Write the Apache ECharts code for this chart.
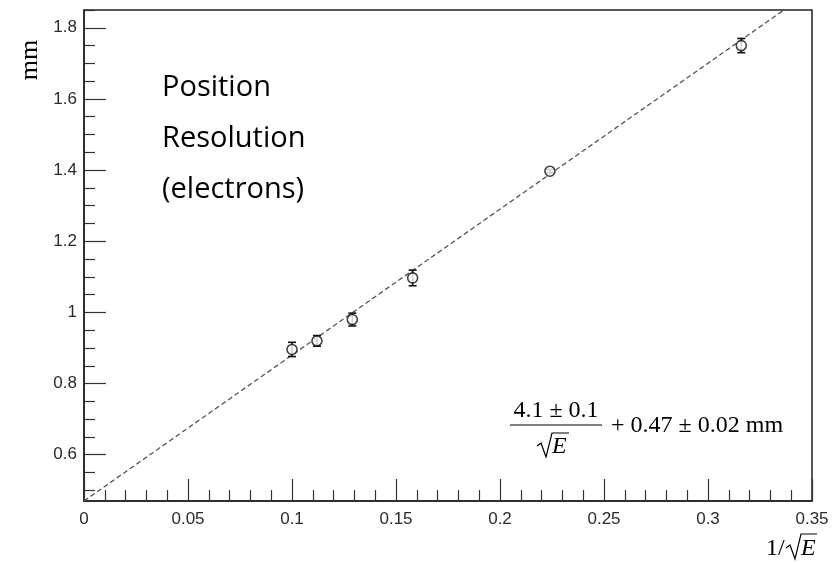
<!DOCTYPE html>
<html>
<head>
<meta charset="utf-8">
<script src="https://cdn.jsdelivr.net/npm/echarts@6/dist/echarts.min.js"></script>
<style>html,body{margin:0;padding:0;background:#fff}#c{width:833px;height:563px}</style>
</head>
<body>
<div id="c"></div>
<script>
// data
const xValues = [0.1, 0.112, 0.129, 0.158, 0.224, 0.316];
const yValues = [0.896, 0.920, 0.980, 1.097, 1.397, 1.750];
const yErrors = [0.020, 0.015, 0.018, 0.022, 0.005, 0.020];
const fitLine = [[0, 0.47], [0.336, 1.848]];
const yMajorTicks = [0.6, 0.8, 1.0, 1.2, 1.4, 1.6, 1.8];
const yMinorTicks = [0.5, 0.55, 0.65, 0.7, 0.75, 0.85, 0.9, 0.95, 1.05, 1.1, 1.15, 1.25, 1.3, 1.35, 1.45, 1.5, 1.55, 1.65, 1.7, 1.75, 1.85];

const points = xValues.map((x, i) => [x, yValues[i]]);
const errData = xValues.map((x, i) => [x, yValues[i], yErrors[i]]);

const chart = echarts.init(document.getElementById('c'), null, {renderer: 'canvas'});
const axisColor = '#333';
const labelStyle = {color: '#2a2a2a', fontFamily: 'Liberation Sans', fontSize: 17};

chart.setOption({
  animation: false,
  backgroundColor: '#fff',
  grid: {left: 84, right: 21, top: 10, bottom: 62, show: true, borderColor: '#222', borderWidth: 1.5, backgroundColor: 'transparent'},
  xAxis: {
    type: 'value', min: 0, max: 0.35, interval: 0.05,
    axisLine: {lineStyle: {color: '#222', width: 1.5}},
    axisTick: {inside: true, length: 22, lineStyle: {color: axisColor, width: 1.2}},
    minorTick: {show: true, splitNumber: 5, length: 11, lineStyle: {color: axisColor, width: 1.2}},
    splitLine: {show: false},
    axisLabel: Object.assign({margin: 10, formatter: v => String(+v.toFixed(2))}, labelStyle)
  },
  yAxis: [{
    type: 'value', min: 0.47, max: 1.85,
    axisLine: {show: true, lineStyle: {color: '#222', width: 1.5}},
    axisTick: {show: true, inside: true, length: 22, customValues: yMajorTicks, lineStyle: {color: axisColor, width: 1.2}},
    splitLine: {show: false},
    axisLabel: Object.assign({margin: 7, customValues: yMajorTicks, formatter: v => String(+v.toFixed(1))}, labelStyle)
  }, {
    type: 'value', min: 0.47, max: 1.85, position: 'left',
    axisLine: {show: false},
    axisTick: {show: true, inside: true, length: 11, customValues: yMinorTicks, lineStyle: {color: axisColor, width: 1.2}},
    splitLine: {show: false},
    axisLabel: {show: false}
  }],
  series: [{
    type: 'line', data: fitLine, symbol: 'none', z: 2,
    lineStyle: {color: '#555', width: 1.3, type: [5, 3]}
  }, {
    type: 'custom', data: errData, z: 3,
    renderItem: function (params, api) {
      const x = api.value(0), y = api.value(1), e = api.value(2);
      const t = api.coord([x, y + e]);
      const b = api.coord([x, y - e]);
      const hw = 4;
      const st = {stroke: '#111', lineWidth: 1.6};
      return {type: 'group', children: [
        {type: 'line', shape: {x1: t[0], y1: t[1], x2: b[0], y2: b[1]}, style: st},
        {type: 'line', shape: {x1: t[0] - hw, y1: t[1], x2: t[0] + hw, y2: t[1]}, style: st},
        {type: 'line', shape: {x1: b[0] - hw, y1: b[1], x2: b[0] + hw, y2: b[1]}, style: st}
      ]};
    }
  }, {
    type: 'scatter', data: points, z: 4, symbol: 'circle', symbolSize: 10,
    itemStyle: {color: '#fff', borderColor: '#111', borderWidth: 1.6}
  }],
  graphic: [
    {type: 'text', left: 162, top: 62, style: {text: 'Position\nResolution\n(electrons)', font: '29px "Open Sans"', lineHeight: 51, fill: '#000'}},
    {type: 'text', x: 30, y: 60, rotation: Math.PI / 2, style: {text: 'mm', font: '26px "Liberation Serif"', fill: '#000', align: 'center', verticalAlign: 'middle'}},
    // x-axis title 1/√E
    {type: 'text', x: 766, y: 549, style: {text: '1/', font: '24px "Liberation Serif"', fill: '#000', align: 'left', verticalAlign: 'middle'}},
    {type: 'polyline', shape: {points: [[786, 548], [790, 545], [795, 559], [801, 534], [817, 534]]}, style: {stroke: '#000', lineWidth: 1.2, fill: null}},
    {type: 'text', x: 801, y: 549, style: {text: 'E', font: 'italic 24px "Liberation Serif"', fill: '#000', align: 'left', verticalAlign: 'middle'}},
    // formula
    {type: 'text', x: 556, y: 411, style: {text: '4.1 ± 0.1', font: '24px "Liberation Serif"', fill: '#000', align: 'center', verticalAlign: 'middle'}},
    {type: 'line', shape: {x1: 510, y1: 425, x2: 602, y2: 425}, style: {stroke: '#000', lineWidth: 1.2}},
    {type: 'polyline', shape: {points: [[537, 446], [541, 443], [546, 457], [552, 433], [569, 433]]}, style: {stroke: '#000', lineWidth: 1.2, fill: null}},
    {type: 'text', x: 552, y: 447, style: {text: 'E', font: 'italic 24px "Liberation Serif"', fill: '#000', align: 'left', verticalAlign: 'middle'}},
    {type: 'text', x: 611, y: 426, style: {text: '+ 0.47 ± 0.02 mm', font: '24px "Liberation Serif"', fill: '#000', align: 'left', verticalAlign: 'middle'}}
  ]
});
</script>
</body>
</html>
